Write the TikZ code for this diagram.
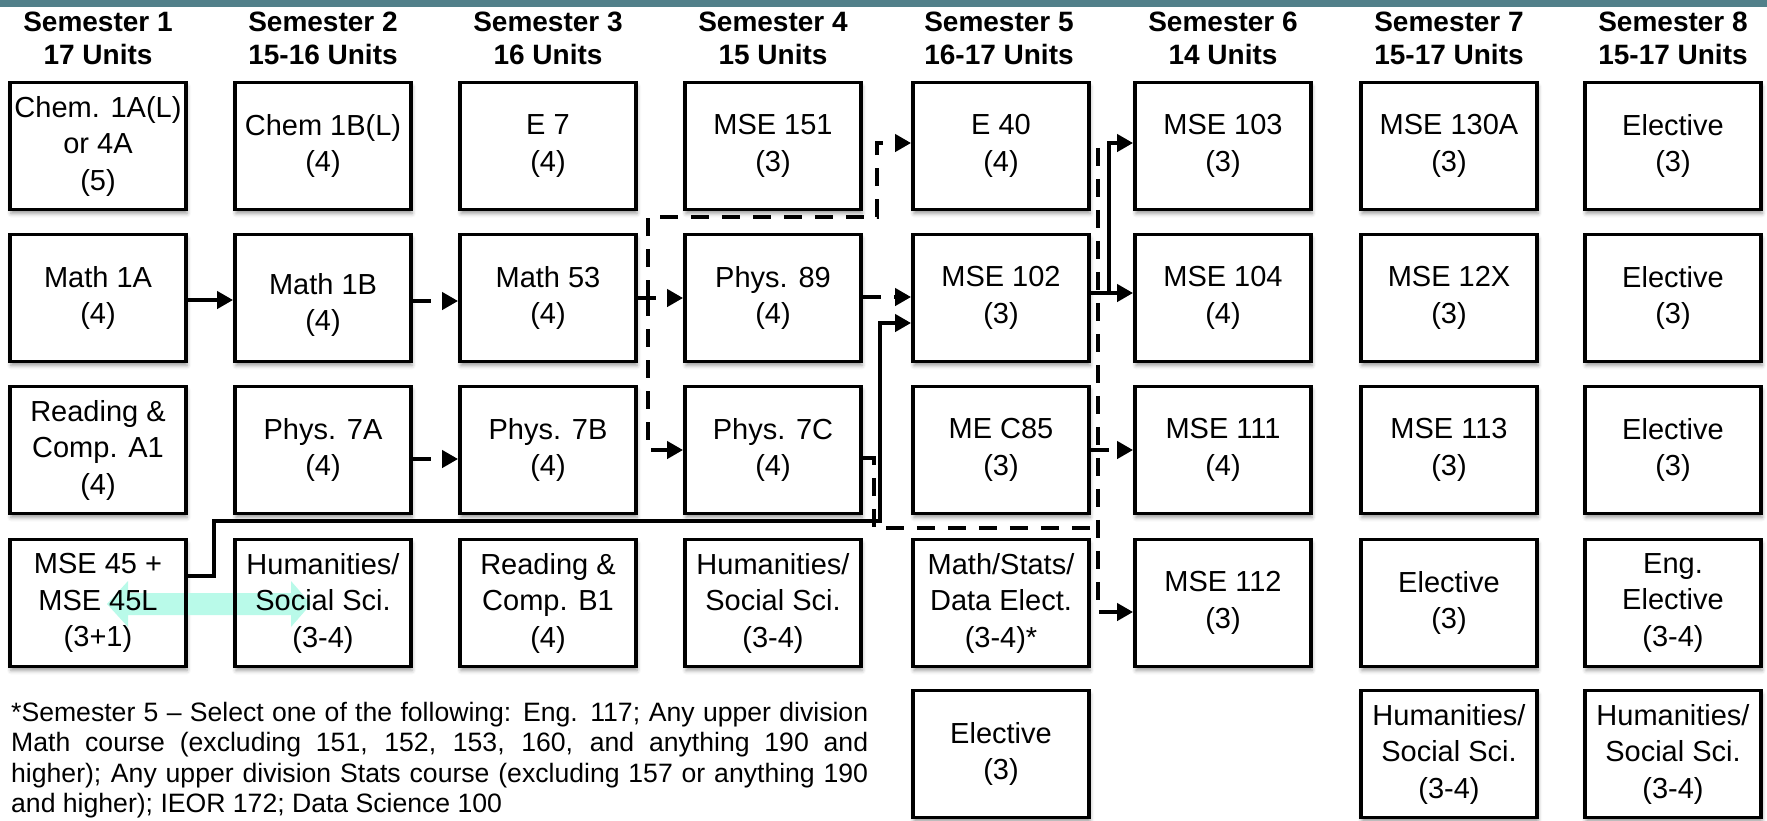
\documentclass[tikz,border=0pt]{standalone}
\usepackage{fontspec}
\setmainfont{Liberation Sans}
\usetikzlibrary{arrows.meta,shadows.blur,calc}
\definecolor{bandcol}{RGB}{82,128,138}
\definecolor{mint}{RGB}{185,250,233}
\begin{document}
\begin{tikzpicture}[x=1pt,y=-1pt,
  boxbase/.style={draw=black, line width=3.8pt, minimum width=176pt, minimum height=127pt,
    inner sep=0pt, align=center, font=\fontsize{29}{36.5}\selectfont},
  course/.style={boxbase, fill=white,
    blur shadow={shadow xshift=1pt, shadow yshift=-4pt, shadow blur radius=4pt, shadow opacity=40}},
  head/.style={align=center, inner sep=0pt, font=\bfseries\fontsize{28}{32.5}\selectfont, anchor=north},
  solidcon/.style={line width=4.5pt, -{Triangle[length=16pt,width=17pt]}},
  dashcon/.style={line width=4.5pt, dash pattern=on 18pt off 13pt, -{Triangle[length=16pt,width=17pt]}},
  dashplain/.style={line width=4.5pt, dash pattern=on 18pt off 13pt},
]
\useasboundingbox (0,0) rectangle (1767,820);
\fill[bandcol] (0,0) rectangle (1767,7);

% headers
\node[head] (h1) at (98,12)   {Semester 1\\17 Units};
\node[head] (h2) at (323,12)  {Semester 2\\15-16 Units};
\node[head] (h3) at (548,12)  {Semester 3\\16 Units};
\node[head] (h4) at (773,12)  {Semester 4\\15 Units};
\node[head] (h5) at (999,12)  {Semester 5\\16-17 Units};
\node[head] (h6) at (1223,12) {Semester 6\\14 Units};
\node[head] (h7) at (1449,12) {Semester 7\\15-17 Units};
\node[head] (h8) at (1673,12) {Semester 8\\15-17 Units};

% row 1
\node[course] (chema)  at (98,146)   {Chem. 1A(L)\\or 4A\\(5)};
\node[course] (chemb)  at (323,146)  {Chem 1B(L)\\(4)};
\node[course] (e7)     at (548,146)  {E 7\\(4)};
\node[course] (mse151) at (773,146)  {MSE 151\\(3)};
\node[course] (e40)    at (1001,146) {E 40\\(4)};
\node[course] (mse103) at (1223,146) {MSE 103\\(3)};
\node[course] (mse130) at (1449,146) {MSE 130A\\(3)};
\node[course] (el81)   at (1673,146) {Elective\\(3)};
% row 2
\node[course] (m1a)    at (98,298)   {Math 1A\\(4)};
\node[course] (m1b)    at (323,298)  {\raisebox{-7pt}[\height][\depth]{\begin{tabular}{@{}c@{}}Math 1B\\(4)\end{tabular}}};
\node[course] (m53)    at (548,298)  {Math 53\\(4)};
\node[course] (p89)    at (773,298)  {Phys. 89\\(4)};
\node[course] (mse102) at (1001,298) {MSE 102\\(3)};
\node[course] (mse104) at (1223,298) {MSE 104\\(4)};
\node[course] (mse12x) at (1449,298) {MSE 12X\\(3)};
\node[course] (el82)   at (1673,298) {Elective\\(3)};
% row 3
\node[course] (rca)    at (98,450)   {Reading \&\\Comp. A1\\(4)};
\node[course] (p7a)    at (323,450)  {Phys. 7A\\(4)};
\node[course] (p7b)    at (548,450)  {Phys. 7B\\(4)};
\node[course] (p7c)    at (773,450)  {Phys. 7C\\(4)};
\node[course] (mec85)  at (1001,450) {ME C85\\(3)};
\node[course] (mse111) at (1223,450) {MSE 111\\(4)};
\node[course] (mse113) at (1449,450) {MSE 113\\(3)};
\node[course] (el83)   at (1673,450) {Elective\\(3)};
% row 4: white ground and shadow first, then the mint arrow, then border and text
\node[course] (mse45bg) at (98,603)  {};
\node[course] (hum2bg)  at (323,603) {};
\fill[mint] (107,604) -- (128,581) -- (128,593) -- (291,593) -- (291,581)
  -- (311,604) -- (291,627) -- (291,615) -- (128,615) -- (128,627) -- cycle;
\node[boxbase] (mse45)  at (98,603)   {MSE 45 +\\MSE 45L\\(3+1)};
\node[boxbase] (hum2)   at (323,603)  {Humanities/\\Social Sci.\\(3-4)};
\node[course] (rcb)    at (548,603)  {Reading \&\\Comp. B1\\(4)};
\node[course] (hum4)   at (773,603)  {Humanities/\\Social Sci.\\(3-4)};
\node[course] (mathel) at (1001,603) {Math/Stats/\\Data Elect.\\(3-4)*};
\node[course] (mse112) at (1223,603) {MSE 112\\(3)};
\node[course] (el74)   at (1449,603) {Elective\\(3)};
\node[course] (engel)  at (1673,603) {Eng.\\Elective\\(3-4)};
% row 5
\node[course] (el55)   at (1001,754) {Elective\\(3)};
\node[course] (hum7)   at (1449,754) {Humanities/\\Social Sci.\\(3-4)};
\node[course] (hum8)   at (1673,754) {Humanities/\\Social Sci.\\(3-4)};

% footnote
\node[anchor=north west, inner sep=0pt, text width=857pt, align=justify,
      font=\fontsize{26.6}{30.4}\selectfont] (note) at (11,702)
 {*Semester 5 – Select one of the following: Eng. 117; Any upper division\linebreak
  Math course (excluding 151, 152, 153, 160, and anything 190 and\linebreak
  higher); Any upper division Stats course (excluding 157 or anything 190\linebreak
  and higher); IEOR 172; Data Science 100};

% connectors
\draw[solidcon] ([yshift=-2pt]m1a.east) -- ([yshift=-2pt]m1b.west);
\draw[dashcon] ([yshift=-3pt]m1b.east) -- ([yshift=-3pt]m53.west);
\draw[dashcon] ([yshift=-9pt]p7a.east) -- ([yshift=-9pt]p7b.west);

\coordinate (j1) at (648,298);
\coordinate (j2) at (648,217);
\coordinate (j3) at (877,217);
\draw[dashcon] (m53.east) -- (j1) -- (p89.west);
\draw[dashcon] (j1) |- (p7c.west);
\draw[dashcon] (j1) -- (j2) -- (j3) |- ([yshift=3pt]e40.west);

\draw[dashcon] ([yshift=1pt]p89.east) -- ([yshift=1pt]mse102.west);

\coordinate (k1) at (214,521);
\coordinate (k2) at (880,323);
\draw[solidcon] ([yshift=27pt]mse45.east) -| (k1) -| (k2) -- ([yshift=-25pt]mse102.west);

\coordinate (p1) at (874,528);
\coordinate (p2) at (1098,528);
\draw[dashplain] ([yshift=-8pt]p7c.east) -| (p1) -- (p2);

\coordinate (v1) at (1098,146);
\draw[dashcon, dash phase=22pt] (e40.east) -- (v1) |- ([yshift=-9pt]mse112.west);

\draw[dashcon] (mec85.east) -- (mse111.west);

\coordinate (s1) at (1109,293);
\draw[solidcon] ([yshift=5pt]mse102.east) -- ([yshift=5pt]mse104.west);
\draw[solidcon] (s1) |- ([yshift=3pt]mse103.west);
\end{tikzpicture}
\end{document}
